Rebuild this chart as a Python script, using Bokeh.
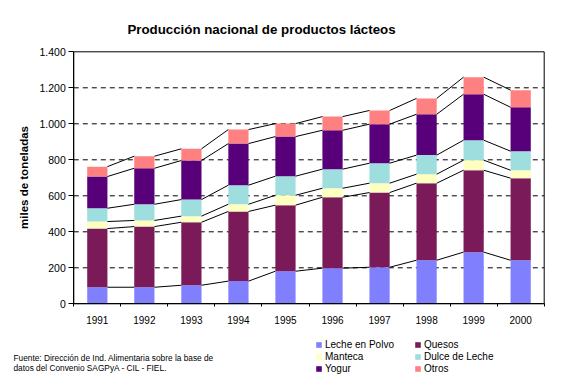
from bokeh.plotting import figure
from bokeh.models import FixedTicker, Label, Legend, LegendItem, ColumnDataSource
from bokeh.embed import file_html
from bokeh.resources import INLINE

years = ["1991", "1992", "1993", "1994", "1995", "1996", "1997", "1998", "1999", "2000"]
leche = [92, 92, 103, 126, 181, 198, 203, 242, 287, 242]
quesos = [326, 337, 350, 387, 367, 394, 415, 428, 455, 456]
manteca = [39, 34, 34, 40, 55, 50, 52, 50, 56, 44]
dulce = [74, 90, 92, 106, 106, 106, 111, 106, 111, 106]
yogur = [176, 200, 217, 231, 220, 216, 217, 227, 255, 244]
otros = [55, 67, 65, 78, 72, 76, 76, 88, 95, 95]

series_names = ["Leche en Polvo", "Quesos", "Manteca", "Dulce de Leche", "Yogur", "Otros"]
series_vals = [leche, quesos, manteca, dulce, yogur, otros]
colors = ["#8080FF", "#7A1A58", "#FFFFC0", "#9EDEDE", "#58007A", "#FF8080"]

y_ticks = [0, 200, 400, 600, 800, 1000, 1200, 1400]
y_tick_labels = ["0", "200", "400", "600", "800", "1.000", "1.200", "1.400"]

title_text = "Producción nacional de productos lácteos"
y_label = "miles de toneladas"
source_lines = ["Fuente: Dirección de Ind. Alimentaria sobre la base de",
                "datos del Convenio SAGPyA - CIL - FIEL."]

FONT = "Liberation Sans"

# ---- layout (pixels inside the canvas) ----
W, H = 567, 378
PL, PR, PT, PB = 73.3, 543.7, 51.3, 303.3   # plot-area edges, px from canvas top-left
n = len(years)
ymin, ymax = y_ticks[0], y_ticks[-1]
sx = (PR - PL) / n
sy = (PB - PT) / (ymax - ymin)
x_start = -PL / sx
x_end = n + (W - PR) / sx
y_start = ymin - (H - PB) / sy
y_end = ymax + PT / sy

xc = [i + 0.5 for i in range(n)]
bw = 0.43

p = figure(width=W, height=H, x_range=(x_start, x_end), y_range=(y_start, y_end),
           output_backend="svg", toolbar_location=None,
           min_border_left=0, min_border_right=0, min_border_top=0, min_border_bottom=0)
p.outline_line_color = None
p.border_fill_color = "white"
p.background_fill_color = "white"
p.grid.visible = False

# dashed gridlines inside plot area
grid_vals = y_ticks[1:-1]
p.segment(x0=[0] * len(grid_vals), x1=[n] * len(grid_vals), y0=grid_vals, y1=grid_vals,
          line_color="black", line_width=1, line_dash="5 4")

renderers = []
bottom = [0] * n
cums = []
for name, vals, col in zip(series_names, series_vals, colors):
    top = [b + v for b, v in zip(bottom, vals)]
    src = ColumnDataSource(dict(x=xc, bottom=bottom, top=top))
    r = p.vbar(x="x", bottom="bottom", top="top", width=bw, source=src,
               fill_color=col, line_color=None)
    renderers.append(r)
    cums.append(top)
    bottom = top

# series lines between the stacked bars
x0s, y0s, x1s, y1s = [], [], [], []
for cum in cums:
    for i in range(n - 1):
        x0s.append(xc[i] + bw / 2)
        y0s.append(cum[i])
        x1s.append(xc[i + 1] - bw / 2)
        y1s.append(cum[i + 1])
p.segment(x0=x0s, y0=y0s, x1=x1s, y1=y1s, line_color="black", line_width=1)

# plot-area border
p.quad(left=[0], right=[n], bottom=[ymin], top=[ymax], fill_color=None,
       line_color="black", line_width=1)

# axes fixed at the plot-area edges
p.yaxis.fixed_location = 0
p.yaxis.bounds = (ymin, ymax)
p.yaxis.ticker = FixedTicker(ticks=y_ticks)
p.yaxis.major_label_overrides = {t: l for t, l in zip(y_ticks, y_tick_labels)}
p.yaxis.minor_tick_line_color = None
p.yaxis.major_tick_in = 0
p.yaxis.major_tick_out = 5
p.yaxis.major_label_standoff = 3
p.yaxis.major_label_text_font_size = "10.5px"
p.yaxis.axis_label = y_label
p.yaxis.axis_label_text_font = FONT
p.yaxis.axis_label_text_font_style = "bold"
p.yaxis.axis_label_text_font_size = "11.5px"
p.yaxis.axis_label_standoff = 6

p.xaxis.fixed_location = ymin
p.xaxis.bounds = (0, n)
p.xaxis.ticker = FixedTicker(ticks=xc, minor_ticks=list(range(n + 1)))
p.xaxis.major_label_overrides = {x: y for x, y in zip(xc, years)}
p.xaxis.major_tick_line_color = None
p.xaxis.minor_tick_in = 0
p.xaxis.minor_tick_out = 3
p.xaxis.major_label_standoff = 6
p.xaxis.major_label_text_font_size = "10px"

for ax in (p.xaxis[0], p.yaxis[0]):
    ax.axis_line_color = "black"
    ax.major_label_text_font = FONT
    ax.major_label_text_color = "black"
    ax.axis_label_text_color = "black"

# title (screen units: from canvas bottom-left)
p.add_layout(Label(x=261, y=H - 29.3, x_units="screen", y_units="screen", text=title_text,
                   text_font=FONT, text_font_style="bold", text_font_size="13.3px",
                   text_align="center", text_baseline="alphabetic", text_color="black"))

# source note
for k, line in enumerate(source_lines):
    p.add_layout(Label(x=13, y=H - 357 - 10.7 * k, x_units="screen", y_units="screen", text=line,
                       text_font=FONT, text_font_size="8.3px", text_align="left",
                       text_baseline="alphabetic", text_color="black"))

def make_legend(idx, xpos):
    items = [LegendItem(label=series_names[i], renderers=[renderers[i]]) for i in idx]
    lg = Legend(items=items, location=(xpos, H - 374), orientation="vertical",
                glyph_width=7, glyph_height=7, label_height=12, label_width=10,
                spacing=0, padding=0, margin=0, label_standoff=3,
                label_text_font=FONT, label_text_font_size="10px",
                label_text_color="black", border_line_color=None,
                background_fill_alpha=0)
    p.add_layout(lg, "center")

make_legend([0, 2, 4], 315)
make_legend([1, 3, 5], 414)

open("out.html", "w").write(file_html(p, INLINE))
